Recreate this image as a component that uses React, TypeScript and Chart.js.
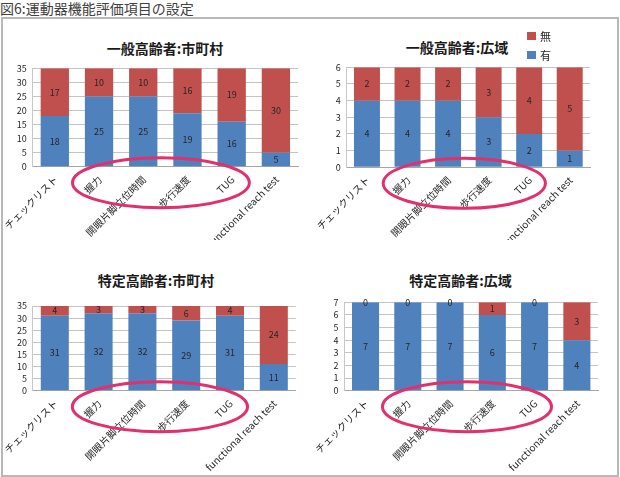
import React, { useEffect, useRef } from 'react';
import { Chart, registerables } from 'chart.js';

Chart.register(...registerables);

// ---- data ----
const categories = ['チェックリスト', '握力', '開眼片脚立位時間', '歩行速度', 'TUG', 'functional reach test'];
const seriesYes = '有';
const seriesNo = '無';
const mainTitle = '図6:運動器機能評価項目の設定';
const panelTitles = ['一般高齢者:市町村', '一般高齢者:広域', '特定高齢者:市町村', '特定高齢者:広域'];

const yesGeneralCity = [18, 25, 25, 19, 16, 5];
const noGeneralCity = [17, 10, 10, 16, 19, 30];
const yesGeneralWide = [4, 4, 4, 3, 2, 1];
const noGeneralWide = [2, 2, 2, 3, 4, 5];
const yesSpecificCity = [31, 32, 32, 29, 31, 11];
const noSpecificCity = [4, 3, 3, 6, 4, 24];
const yesSpecificWide = [7, 7, 7, 6, 7, 4];
const noSpecificWide = [0, 0, 0, 1, 0, 3];

const yMaxes = [35, 6, 35, 7];
const ySteps = [5, 1, 5, 1];

// ---- style ----
const BLUE = '#4f81bd';
const RED = '#c0504d';
const PINK = '#e0306e';
const FONT = '"Noto Sans CJK JP", "Noto Sans", sans-serif';
const XH = 70;

const panels = [
  { title: panelTitles[0], yes: yesGeneralCity, no: noGeneralCity, max: yMaxes[0], step: ySteps[0],
    box: { x: 0, y: 20, w: 310, h: 220 }, area: { l: 32.7, r: 298, t: 48.3, b: 146.7 }, tx: 165, ty: 47.5 },
  { title: panelTitles[1], yes: yesGeneralWide, no: noGeneralWide, max: yMaxes[1], step: ySteps[1],
    box: { x: 310, y: 20, w: 308, h: 220 }, area: { l: 36.7, r: 280, t: 47.3, b: 147.3 }, tx: 457, ty: 47 },
  { title: panelTitles[2], yes: yesSpecificCity, no: noSpecificCity, max: yMaxes[2], step: ySteps[2],
    box: { x: 0, y: 240, w: 310, h: 232 }, area: { l: 32.9, r: 295.7, t: 66, b: 150.7 }, tx: 156, ty: 280 },
  { title: panelTitles[3], yes: yesSpecificWide, no: noSpecificWide, max: yMaxes[3], step: ySteps[3],
    box: { x: 310, y: 240, w: 308, h: 232 }, area: { l: 34.4, r: 288, t: 62.3, b: 150.7 }, tx: 460.5, ty: 280 },
];

const valueLabels = {
  id: 'valueLabels',
  afterDatasetsDraw(chart: any) {
    const ctx = chart.ctx;
    ctx.save();
    ctx.font = `9px ${FONT}`;
    ctx.fillStyle = '#262626';
    ctx.textAlign = 'center';
    ctx.textBaseline = 'middle';
    chart.data.datasets.forEach((ds: any, i: number) => {
      const meta = chart.getDatasetMeta(i);
      meta.data.forEach((el: any, j: number) => {
        const v = ds.data[j];
        const cy = (el.y + el.base) / 2;
        ctx.fillText(String(v), el.x, cy);
      });
    });
    ctx.restore();
  },
};

// rotated category labels, anchored at the scale's tick positions
const rotatedLabels = {
  id: 'rotatedLabels',
  afterDraw(chart: any) {
    const ctx = chart.ctx;
    const xs = chart.scales.x;
    const labels = chart.data.labels as string[];
    ctx.save();
    ctx.font = `10px ${FONT}`;
    ctx.fillStyle = '#262626';
    ctx.textAlign = 'right';
    ctx.textBaseline = 'middle';
    labels.forEach((lab, i) => {
      const x = xs.getPixelForValue(i) + 1;
      const y = chart.chartArea.bottom + 11;
      ctx.save();
      ctx.translate(x, y);
      ctx.rotate(-Math.PI / 4);
      ctx.fillText(lab, 0, 0);
      ctx.restore();
    });
    ctx.restore();
  },
};

const ellipseMark = {
  id: 'ellipseMark',
  afterDraw(chart: any) {
    const ctx = chart.ctx;
    const xs = chart.scales.x;
    const stepPx = xs.getPixelForValue(1) - xs.getPixelForValue(0);
    const cx = xs.getPixelForValue(2.4);
    const cy = chart.chartArea.bottom + 16;
    ctx.save();
    ctx.beginPath();
    ctx.ellipse(cx, cy, stepPx * 2.0, 25, 0, 0, Math.PI * 2);
    ctx.strokeStyle = PINK;
    ctx.lineWidth = 3;
    ctx.stroke();
    ctx.restore();
  },
};

function Panel({ p }: { p: any }) {
  const ref = useRef<HTMLCanvasElement>(null);
  useEffect(() => {
    if (!ref.current) return;
    const chart = new Chart(ref.current, {
      type: 'bar',
      data: {
        labels: categories,
        datasets: [
          { label: seriesYes, data: p.yes, backgroundColor: BLUE, barPercentage: 0.64, categoryPercentage: 1 },
          { label: seriesNo, data: p.no, backgroundColor: RED, barPercentage: 0.64, categoryPercentage: 1 },
        ],
      },
      options: {
        animation: false,
        responsive: false,
        devicePixelRatio: 1,
        layout: {
          padding: { top: p.area.t, left: 0, right: p.box.w - p.area.r, bottom: p.box.h - p.area.b - XH },
        },
        plugins: { legend: { display: false }, title: { display: false }, tooltip: { enabled: false } },
        scales: {
          x: {
            stacked: true,
            grid: { display: false },
            border: { display: true, color: '#a6a6a6' },
            ticks: { display: false, autoSkip: false },
            afterFit(s: any) { s.height = XH; },
          },
          y: {
            stacked: true,
            min: 0,
            max: p.max,
            ticks: { stepSize: p.step, autoSkip: false, font: { size: 9, family: FONT }, color: '#262626', padding: 6 },
            grid: { color: '#c4c4c4', drawTicks: false },
            border: { color: '#c8c8c8' },
            afterFit(s: any) { s.width = p.area.l; },
          },
        },
      } as any,
      plugins: [valueLabels, rotatedLabels, ellipseMark],
    });
    return () => chart.destroy();
  }, []);
  return (
    <canvas
      ref={ref}
      width={p.box.w}
      height={p.box.h}
      style={{ position: 'absolute', left: p.box.x, top: p.box.y, width: p.box.w, height: p.box.h }}
    />
  );
}

export default function App() {
  useEffect(() => {
    document.body.style.margin = '0';
  }, []);
  return (
    <div style={{ position: 'relative', width: 620, height: 477, background: '#fff', fontFamily: FONT, overflow: 'hidden' }}>
      <div style={{ position: 'absolute', left: 0, top: 0, fontSize: 14, lineHeight: '17px', color: '#404040', whiteSpace: 'nowrap' }}>
        {mainTitle}
      </div>
      <div style={{ position: 'absolute', left: 1, top: 17, width: 618, height: 460, border: '2px solid #b8b8b8', boxSizing: 'border-box' }} />
      {panels.map((p, i) => (
        <div key={'t' + i} style={{
          position: 'absolute', left: p.tx - 100, top: p.ty - 10, width: 200, textAlign: 'center',
          fontSize: 14, lineHeight: '20px', fontWeight: 700, color: '#1a1a1a', whiteSpace: 'nowrap',
        }}>{p.title}</div>
      ))}
      {panels.map((p, i) => <Panel key={i} p={p} />)}
      <div style={{ position: 'absolute', left: 527, top: 32, width: 9, height: 8, background: RED }} />
      <div style={{ position: 'absolute', left: 540, top: 28, fontSize: 11, lineHeight: '16px', color: '#262626' }}>{seriesNo}</div>
      <div style={{ position: 'absolute', left: 527, top: 51, width: 9, height: 8, background: BLUE }} />
      <div style={{ position: 'absolute', left: 540, top: 47, fontSize: 11, lineHeight: '16px', color: '#262626' }}>{seriesYes}</div>
    </div>
  );
}
